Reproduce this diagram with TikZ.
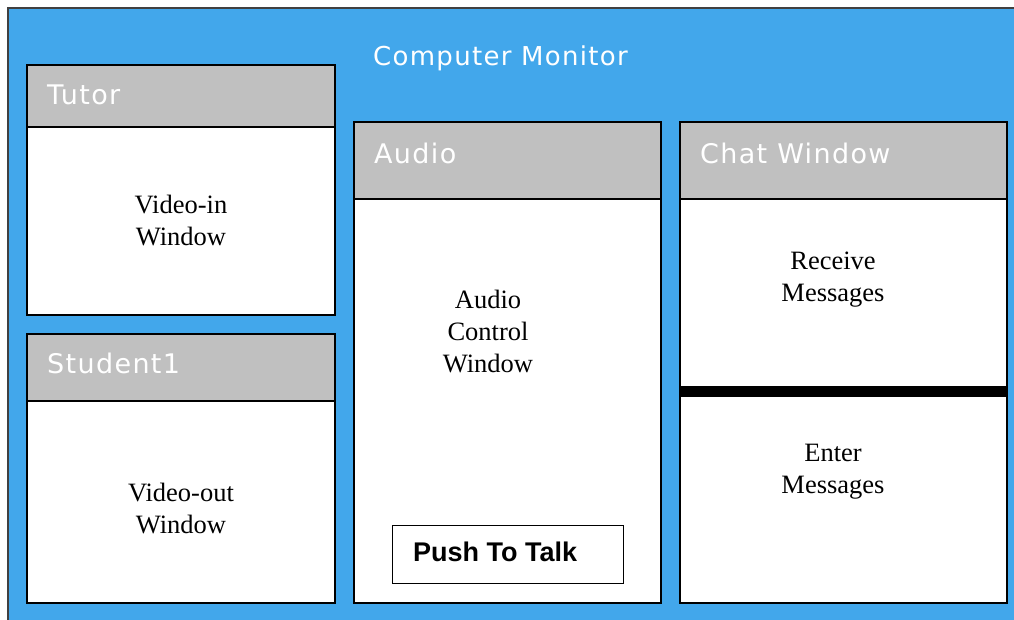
\documentclass[tikz,border=0pt]{standalone}
\usepackage{fontspec}
\newfontfamily\panefont[LetterSpace=5]{DejaVu Sans}
\newfontfamily\labelfont{Liberation Serif}
\newfontfamily\buttonfont{Liberation Sans}
\definecolor{monitorBlue}{RGB}{66,167,235}
\definecolor{barGrey}{RGB}{192,192,192}
\begin{document}
\begin{tikzpicture}[x=1pt,y=-1pt,
  screen/.style={draw=black!75, line width=1.5pt, fill=monitorBlue},
  pane/.style={draw=black, line width=1.3pt, fill=white, inner sep=0pt, outer sep=0pt, anchor=north west},
  bar/.style={draw=black, line width=1.3pt, fill=barGrey, inner sep=0pt, outer sep=0pt, anchor=north west},
  heading/.style={text=white, font=\panefont\fontsize{27}{30}\selectfont, anchor=west, inner sep=0pt},
  body/.style={font=\labelfont\fontsize{26.5}{32}\selectfont, align=center, inner sep=0pt},
  button/.style={draw=black, line width=1.3pt, fill=white, inner sep=0pt, anchor=north west},
  divider/.style={line width=11pt, black}
]
\useasboundingbox (0,0) rectangle (1014,620);
\fill[white] (0,0) rectangle (1014,620);

% monitor background (runs past the right and bottom edges)
\begin{scope}
\clip (0,0) rectangle (1014,620);
\node[screen, inner sep=0pt, outer sep=0pt, anchor=north west, minimum width=1100, minimum height=700] (monitor) at (8,8) {};
\end{scope}
\node[heading, font=\panefont\fontsize{26}{30}\selectfont] (monitorTitle) at (373,58) {Computer Monitor};

% tutor video pane
\node[pane, minimum width=308, minimum height=250] (tutor) at (27,65) {};
\node[bar, minimum width=308, minimum height=62] (tutorBar) at (27,65) {};
\node[heading] (tutorTitle) at (47,95) {Tutor};
\node[body] (videoIn) at (181,221) {Video-in\\Window};

% student video pane
\node[pane, minimum width=308, minimum height=269] (student) at (27,334) {};
\node[bar, minimum width=308, minimum height=67] (studentBar) at (27,334) {};
\node[heading] (studentTitle) at (47,363.5) {Student1};
\node[body] (videoOut) at (181,509) {Video-out\\Window};

% audio pane
\node[pane, minimum width=307, minimum height=481] (audio) at (354,122) {};
\node[bar, minimum width=307, minimum height=77] (audioBar) at (354,122) {};
\node[heading] (audioTitle) at (374,153) {Audio};
\node[body] (audioCtl) at (488,332) {Audio\\Control\\Window};
\node[button, minimum width=231, minimum height=58] (talk) at (392,525) {};
\node[font=\buttonfont\bfseries\fontsize{27}{30}\selectfont, anchor=west, inner sep=0pt] (talkLabel) at (413,552) {Push To Talk};

% chat pane
\node[pane, minimum width=327, minimum height=481] (chat) at (680,122) {};
\node[bar, minimum width=327, minimum height=77] (chatBar) at (680,122) {};
\node[heading] (chatTitle) at (700,153) {Chat Window};
\coordinate (splitL) at (680,391.5);
\coordinate (splitR) at (1007,391.5);
\draw[divider] (splitL) -- (splitR);
\node[body] (receive) at (833,280) {Receive\\Messages};
\node[body] (enter) at (833,472) {Enter\\Messages};
\end{tikzpicture}
\end{document}
